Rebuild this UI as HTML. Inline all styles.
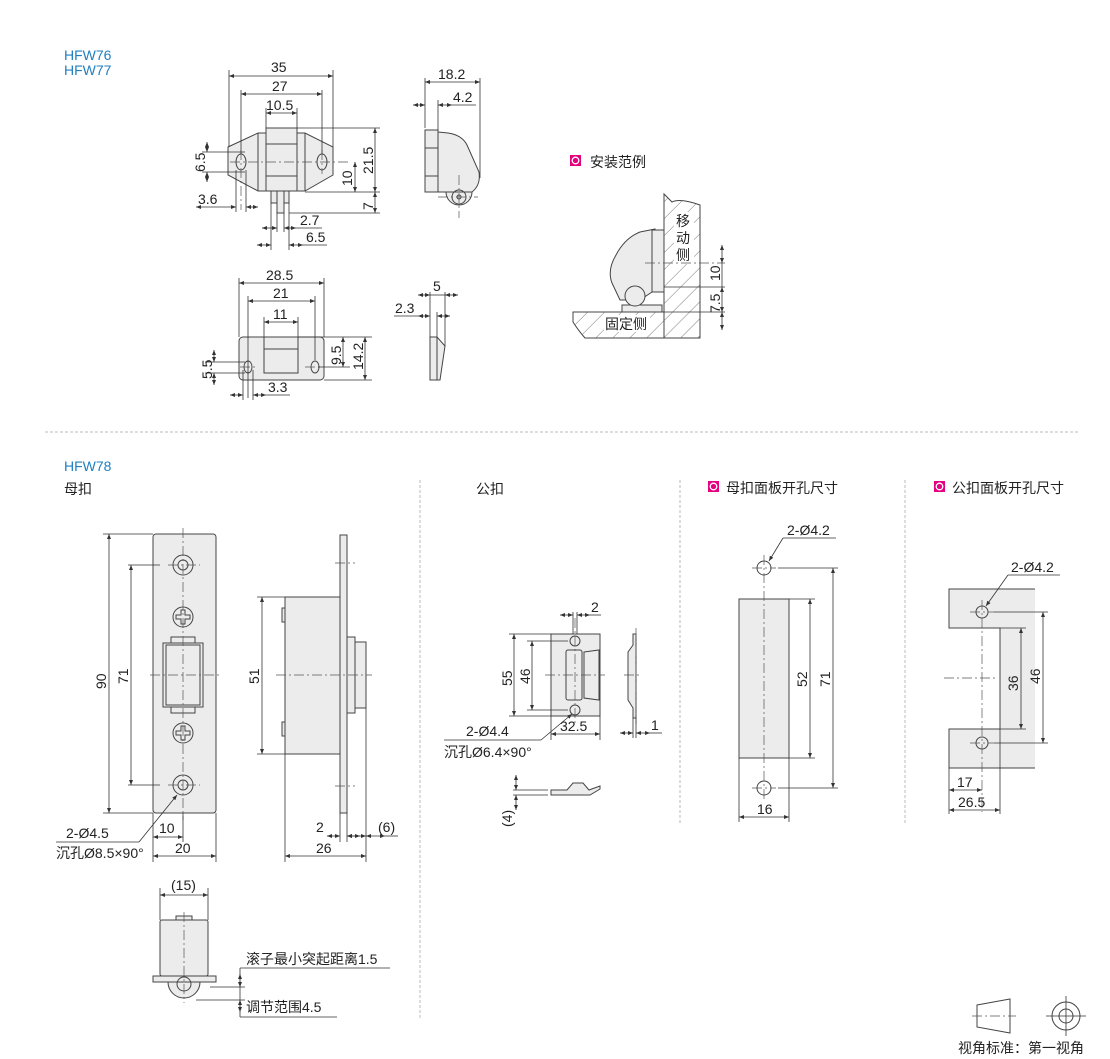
<!DOCTYPE html>
<html><head><meta charset="utf-8"><style>
html,body{margin:0;padding:0;background:#fff;}
svg{display:block;}
text{font-family:"Liberation Sans","Noto Sans CJK SC",sans-serif;font-size:14px;fill:#222;}
.b{fill:#1f7fc0;}
.g{fill:#ececec;stroke:#444;stroke-width:1;}
.o{fill:none;stroke:#444;stroke-width:1;}
.d{fill:none;stroke:#333;stroke-width:0.8;}
.c{fill:none;stroke:#555;stroke-width:0.7;stroke-dasharray:10 3 2 3;}
.a{fill:none;stroke:#333;stroke-width:0.8;marker-start:url(#ar);marker-end:url(#ar);}
.sep{stroke:#bbb;stroke-width:1;stroke-dasharray:3 2;}
</style></head><body>
<svg width="1110" height="1059" viewBox="0 0 1110 1059" xmlns="http://www.w3.org/2000/svg">
<defs>
<marker id="ar" viewBox="0 0 10 10" refX="10" refY="5" markerWidth="7" markerHeight="5" orient="auto-start-reverse" markerUnits="userSpaceOnUse"><path d="M0,1 L10,5 L0,9 Z" fill="#333"/></marker>
<pattern id="h" width="12" height="12" patternUnits="userSpaceOnUse" patternTransform="rotate(45)"><rect width="12" height="12" fill="#fff"/><line x1="0" y1="0" x2="0" y2="12" stroke="#555" stroke-width="0.8"/></pattern>
</defs>

<text x="64" y="60" class="b">HFW76</text>
<text x="64" y="75" class="b">HFW77</text>

<path class="g" d="M228,147 L258,133 L266,133 L266,128 L297,128 L297,133 L305,133 L333,147 L333,175 L305,191 L258,191 L228,175 Z"/>
<line class="o" x1="258" y1="133" x2="258" y2="191"/><line class="o" x1="305" y1="133" x2="305" y2="191"/>
<line class="o" x1="266" y1="133" x2="266" y2="191"/><line class="o" x1="297" y1="133" x2="297" y2="191"/>
<line class="o" x1="266" y1="144" x2="297" y2="144"/><line class="o" x1="266" y1="176" x2="297" y2="176"/>
<ellipse class="o" cx="241" cy="162" rx="5" ry="8"/><ellipse class="o" cx="322" cy="162" rx="5" ry="8"/>
<rect class="g" x="271" y="191" width="18" height="12"/><rect class="g" x="277" y="191" width="7" height="22"/>
<line class="c" x1="230" y1="162" x2="350" y2="162"/><line class="c" x1="241" y1="150" x2="241" y2="210"/><line class="c" x1="322" y1="150" x2="322" y2="174"/>
<line class="d" x1="229" y1="70" x2="229" y2="147"/><line class="d" x1="333" y1="70" x2="333" y2="147"/>
<line class="a" x1="229" y1="76" x2="333" y2="76"/><text x="271" y="72">35</text>
<line class="d" x1="241" y1="90" x2="241" y2="154"/><line class="d" x1="322" y1="90" x2="322" y2="154"/>
<line class="a" x1="241" y1="94" x2="322" y2="94"/><text x="272" y="91">27</text>
<line class="d" x1="266" y1="108" x2="266" y2="128"/><line class="d" x1="297" y1="108" x2="297" y2="128"/>
<line class="a" x1="266" y1="113" x2="297" y2="113"/><text x="266" y="110">10.5</text>
<line class="d" x1="297" y1="128" x2="380" y2="128"/><line class="d" x1="305" y1="192" x2="380" y2="192"/><line class="d" x1="289" y1="213" x2="380" y2="213"/>
<line class="a" x1="375" y1="128" x2="375" y2="192"/><text transform="translate(373,174) rotate(-90)">21.5</text>
<line class="a" x1="355" y1="162" x2="355" y2="192"/><text transform="translate(352,186) rotate(-90)">10</text>
<line class="a" x1="375" y1="192" x2="375" y2="213"/><text transform="translate(373,210) rotate(-90)">7</text>
<line class="d" x1="202" y1="152" x2="245" y2="152"/><line class="d" x1="202" y1="172" x2="245" y2="172"/>
<line class="a" x1="207" y1="142" x2="207" y2="152"/><line class="a" x1="207" y1="182" x2="207" y2="172"/><text transform="translate(205,172) rotate(-90)">6.5</text>
<line class="d" x1="236" y1="170" x2="236" y2="212"/><line class="d" x1="246" y1="170" x2="246" y2="212"/>
<line class="a" x1="196" y1="207" x2="236" y2="207"/><line class="a" x1="258" y1="207" x2="246" y2="207"/><text x="198" y="204">3.6</text>
<line class="d" x1="271" y1="203" x2="271" y2="250"/><line class="d" x1="277" y1="213" x2="277" y2="232"/><line class="d" x1="284" y1="213" x2="284" y2="232"/><line class="d" x1="289" y1="203" x2="289" y2="250"/>
<line class="a" x1="262" y1="228" x2="277" y2="228"/><line class="a" x1="296" y1="228" x2="284" y2="228"/><line class="d" x1="296" y1="228" x2="322" y2="228"/><text x="300" y="225">2.7</text>
<line class="a" x1="257" y1="245" x2="271" y2="245"/><line class="a" x1="303" y1="245" x2="289" y2="245"/><line class="d" x1="303" y1="245" x2="327" y2="245"/><text x="306" y="242">6.5</text>

<path class="g" d="M446,192 A13,13 0 1 0 472,192 Z"/>
<path class="g" d="M425,130 L438,132 L448,133 Q462,135 467,145 L479,172 Q481,185 472,192 L425,192 Z"/>
<rect class="g" x="425" y="130" width="13" height="62"/>
<line class="o" x1="425" y1="148" x2="438" y2="148"/><line class="o" x1="425" y1="176" x2="438" y2="176"/>
<circle class="o" cx="459" cy="197" r="7"/><circle class="o" cx="459" cy="197" r="2"/>
<line class="c" x1="459" y1="175" x2="459" y2="218"/><line class="c" x1="438" y1="197" x2="478" y2="197"/>
<line class="d" x1="425" y1="78" x2="425" y2="128"/><line class="d" x1="480" y1="78" x2="480" y2="178"/><line class="d" x1="438" y1="100" x2="438" y2="130"/>
<line class="a" x1="425" y1="82" x2="480" y2="82"/><text x="438" y="79">18.2</text>
<line class="a" x1="413" y1="105" x2="425" y2="105"/><line class="a" x1="452" y1="105" x2="438" y2="105"/><line class="d" x1="452" y1="105" x2="476" y2="105"/><text x="453" y="102">4.2</text>

<rect class="g" x="239" y="337" width="85" height="43" rx="4"/>
<rect class="o" x="264" y="337" width="34" height="36"/><line class="o" x1="264" y1="349" x2="298" y2="349"/>
<ellipse class="o" cx="248" cy="367" rx="4" ry="6"/><ellipse class="o" cx="315" cy="367" rx="4" ry="6"/>
<line class="c" x1="240" y1="367" x2="258" y2="367"/><line class="c" x1="305" y1="367" x2="323" y2="367"/>
<line class="d" x1="239" y1="278" x2="239" y2="337"/><line class="d" x1="324" y1="278" x2="324" y2="337"/>
<line class="a" x1="239" y1="283" x2="324" y2="283"/><text x="266" y="280">28.5</text>
<line class="d" x1="248" y1="296" x2="248" y2="398"/><line class="d" x1="315" y1="296" x2="315" y2="360"/>
<line class="a" x1="248" y1="301" x2="315" y2="301"/><text x="273" y="298">21</text>
<line class="d" x1="264" y1="317" x2="264" y2="337"/><line class="d" x1="298" y1="317" x2="298" y2="337"/>
<line class="a" x1="264" y1="322" x2="298" y2="322"/><text x="273" y="319">11</text>
<line class="d" x1="298" y1="337" x2="372" y2="337"/><line class="d" x1="324" y1="380" x2="372" y2="380"/><line class="d" x1="318" y1="367" x2="350" y2="367"/>
<line class="a" x1="343" y1="337" x2="343" y2="367"/><text transform="translate(341,365) rotate(-90)">9.5</text>
<line class="a" x1="365" y1="337" x2="365" y2="380"/><text transform="translate(363,370) rotate(-90)">14.2</text>
<line class="d" x1="205" y1="362" x2="245" y2="362"/><line class="d" x1="205" y1="373" x2="245" y2="373"/>
<line class="a" x1="214" y1="350" x2="214" y2="362"/><line class="a" x1="214" y1="385" x2="214" y2="373"/><text transform="translate(212,379) rotate(-90)">5.5</text>
<line class="d" x1="243" y1="370" x2="243" y2="400"/><line class="d" x1="253" y1="370" x2="253" y2="400"/>
<line class="a" x1="230" y1="395" x2="243" y2="395"/><line class="a" x1="266" y1="395" x2="253" y2="395"/><line class="d" x1="266" y1="395" x2="290" y2="395"/><text x="268" y="392">3.3</text>
<path class="g" d="M430,337 L437,337 L445,346 L440,380 L430,380 Z"/><line class="o" x1="437" y1="337" x2="437" y2="380"/>
<line class="d" x1="430" y1="292" x2="430" y2="337"/><line class="d" x1="445" y1="292" x2="445" y2="346"/><line class="d" x1="437" y1="312" x2="437" y2="337"/>
<line class="a" x1="418" y1="295" x2="430" y2="295"/><line class="a" x1="458" y1="295" x2="445" y2="295"/><line class="d" x1="430" y1="295" x2="445" y2="295"/><text x="433" y="291">5</text>
<line class="a" x1="418" y1="316" x2="430" y2="316"/><line class="a" x1="450" y1="316" x2="437" y2="316"/><line class="d" x1="394" y1="316" x2="418" y2="316"/><text x="395" y="313">2.3</text>

<rect x="570" y="155" width="11" height="11" fill="#e4007f"/><circle cx="575.5" cy="160.5" r="3.3" fill="none" stroke="#fff" stroke-width="1.3"/>
<text x="590" y="167">安装范例</text>
<path d="M664,338 L664,194 L672,202 Q680,198 700,205 L700,338 Z" fill="url(#h)" stroke="#444"/>
<path d="M573,312 L664,312 L664,338 L585,338 Q578,330 573,322 Z" fill="url(#h)" stroke="#444"/>
<rect x="622" y="305" width="40" height="7" class="g"/>
<path class="g" d="M612,283 Q607,270 616,255 Q625,238 640,232 L655,229 L655,290 L640,300 L620,300 Z"/>
<rect class="g" x="652" y="230" width="12" height="62"/>
<circle class="g" cx="635" cy="296" r="10"/>
<rect x="674" y="212" width="20" height="52" fill="#fff"/>
<text x="676" y="226">移</text><text x="676" y="243">动</text><text x="676" y="260">侧</text>
<rect x="604" y="315" width="46" height="17" fill="#fff"/><text x="605" y="329">固定侧</text>
<line class="c" x1="645" y1="263" x2="725" y2="263"/><line class="d" x1="664" y1="287" x2="725" y2="287"/><line class="d" x1="664" y1="312" x2="725" y2="312"/>
<line class="a" x1="722" y1="245" x2="722" y2="263"/><line class="d" x1="722" y1="263" x2="722" y2="287"/><text transform="translate(720,281) rotate(-90)">10</text>
<line class="a" x1="722" y1="287" x2="722" y2="312"/><text transform="translate(720,313) rotate(-90)">7.5</text><line class="a" x1="722" y1="330" x2="722" y2="312"/>

<line class="sep" x1="45" y1="432" x2="1078" y2="432"/>
<line class="sep" x1="420" y1="480" x2="420" y2="1020"/>
<line class="sep" x1="680" y1="480" x2="680" y2="825"/>
<line class="sep" x1="905" y1="480" x2="905" y2="825"/>

<text x="64" y="471" class="b">HFW78</text>
<text x="64" y="494">母扣</text>
<text x="476" y="494">公扣</text>
<rect x="708" y="481" width="11" height="11" fill="#e4007f"/><circle cx="713.5" cy="486.5" r="3.3" fill="none" stroke="#fff" stroke-width="1.3"/>
<text x="726" y="493">母扣面板开孔尺寸</text>
<rect x="934" y="481" width="11" height="11" fill="#e4007f"/><circle cx="939.5" cy="486.5" r="3.3" fill="none" stroke="#fff" stroke-width="1.3"/>
<text x="952" y="493">公扣面板开孔尺寸</text>

<rect class="g" x="153" y="534" width="63" height="279" rx="3"/>
<circle class="o" cx="183" cy="565" r="10"/><circle class="o" cx="183" cy="565" r="5"/>
<circle class="o" cx="183" cy="785" r="10"/><circle class="o" cx="183" cy="785" r="5"/>
<circle class="o" cx="183" cy="617" r="10"/><circle class="o" cx="183" cy="733" r="10"/>
<path class="o" d="M181,610 h4 v5 h5 v4 h-5 v5 h-4 v-5 h-5 v-4 h5 Z"/><path class="o" d="M181,726 h4 v5 h5 v4 h-5 v5 h-4 v-5 h-5 v-4 h5 Z"/>
<rect class="g" x="171" y="637" width="24" height="76"/>
<rect class="g" x="163" y="643" width="40" height="64"/><rect class="o" x="166" y="645" width="34" height="60"/>
<line class="c" x1="183" y1="528" x2="183" y2="820"/><line class="c" x1="150" y1="675" x2="220" y2="675"/>
<line class="c" x1="168" y1="565" x2="200" y2="565"/><line class="c" x1="168" y1="785" x2="200" y2="785"/>
<line class="d" x1="103" y1="534" x2="153" y2="534"/><line class="d" x1="103" y1="813" x2="153" y2="813"/>
<line class="a" x1="109" y1="534" x2="109" y2="813"/><text transform="translate(106,689) rotate(-90)">90</text>
<line class="d" x1="128" y1="565" x2="160" y2="565"/><line class="d" x1="128" y1="785" x2="160" y2="785"/>
<line class="a" x1="131" y1="565" x2="131" y2="785"/><text transform="translate(128,684) rotate(-90)">71</text>
<line class="d" x1="153" y1="813" x2="153" y2="862"/><line class="d" x1="216" y1="813" x2="216" y2="862"/><line class="d" x1="183" y1="813" x2="183" y2="842"/>
<line class="a" x1="153" y1="837" x2="183" y2="837"/><text x="159" y="833">10</text>
<line class="a" x1="153" y1="856" x2="216" y2="856"/><text x="175" y="853">20</text>
<line class="d" x1="56" y1="842" x2="139" y2="842"/><line class="d" x1="139" y1="842" x2="177" y2="795" marker-end="url(#ar)"/>
<text x="66" y="838">2-Ø4.5</text><text x="56" y="858">沉孔Ø8.5×90°</text>

<rect class="g" x="340" y="535" width="7" height="278"/>
<rect class="g" x="285" y="597" width="55" height="157"/>
<rect class="g" x="282" y="608" width="3" height="14"/><rect class="g" x="282" y="722" width="3" height="14"/>
<rect class="g" x="347" y="642" width="19" height="66"/><rect class="g" x="347" y="637" width="8" height="76"/>
<line class="c" x1="276" y1="675" x2="372" y2="675"/><line class="c" x1="335" y1="563" x2="355" y2="563"/><line class="c" x1="335" y1="786" x2="355" y2="786"/>
<line class="d" x1="257" y1="597" x2="285" y2="597"/><line class="d" x1="257" y1="754" x2="285" y2="754"/>
<line class="a" x1="262" y1="597" x2="262" y2="754"/><text transform="translate(259,684) rotate(-90)">51</text>
<line class="d" x1="285" y1="754" x2="285" y2="862"/><line class="d" x1="366" y1="708" x2="366" y2="862"/><line class="d" x1="340" y1="813" x2="340" y2="842"/><line class="d" x1="347" y1="813" x2="347" y2="842"/>
<line class="a" x1="327" y1="836" x2="340" y2="836"/><line class="a" x1="360" y1="836" x2="347" y2="836"/><text x="316" y="832">2</text>
<line class="a" x1="347" y1="836" x2="366" y2="836"/><line class="a" x1="385" y1="836" x2="366" y2="836"/><line class="d" x1="385" y1="836" x2="398" y2="836"/><text x="378" y="832">(6)</text>
<line class="a" x1="285" y1="856" x2="366" y2="856"/><text x="316" y="853">26</text>

<rect class="g" x="160" y="920" width="48" height="56" rx="2"/><rect class="g" x="176" y="916" width="16" height="4"/>
<rect class="g" x="153" y="976" width="63" height="6"/>
<path class="g" d="M168,982 A16,16 0 0 0 200,982 Z"/><circle class="o" cx="184" cy="984" r="7"/>
<line class="c" x1="184" y1="912" x2="184" y2="1003"/>
<line class="d" x1="160" y1="888" x2="160" y2="920"/><line class="d" x1="208" y1="888" x2="208" y2="920"/>
<line class="a" x1="160" y1="895" x2="208" y2="895"/><text x="171" y="890">(15)</text>
<line class="d" x1="210" y1="987" x2="245" y2="987"/><line class="d" x1="196" y1="1000" x2="245" y2="1000"/>
<line class="d" x1="240" y1="968" x2="390" y2="968"/><line class="d" x1="240" y1="1017" x2="337" y2="1017"/>
<line class="a" x1="240" y1="974" x2="240" y2="987"/><line class="a" x1="240" y1="1012" x2="240" y2="1000"/><line class="d" x1="240" y1="968" x2="240" y2="1017"/>
<text x="246" y="964">滚子最小突起距离1.5</text><text x="246" y="1012">调节范围4.5</text>

<rect class="g" x="551" y="634" width="49" height="82"/>
<rect class="o" x="566" y="650" width="16" height="50" rx="2"/><path class="o" d="M584,652 L599,650 L599,700 L584,698 Z"/>
<circle class="o" cx="575" cy="641" r="5"/><circle class="o" cx="575" cy="710" r="5"/>
<line class="c" x1="575" y1="618" x2="575" y2="725"/><line class="c" x1="545" y1="675" x2="605" y2="675"/>
<line class="d" x1="509" y1="634" x2="551" y2="634"/><line class="d" x1="509" y1="716" x2="551" y2="716"/>
<line class="a" x1="514" y1="634" x2="514" y2="716"/><text transform="translate(512,686) rotate(-90)">55</text>
<line class="d" x1="527" y1="641" x2="568" y2="641"/><line class="d" x1="527" y1="710" x2="568" y2="710"/>
<line class="a" x1="532" y1="641" x2="532" y2="710"/><text transform="translate(530,684) rotate(-90)">46</text>
<line class="d" x1="573" y1="612" x2="573" y2="634"/><line class="d" x1="577" y1="612" x2="577" y2="634"/>
<line class="a" x1="560" y1="615" x2="573" y2="615"/><line class="a" x1="590" y1="615" x2="577" y2="615"/><line class="d" x1="590" y1="615" x2="601" y2="615"/><text x="591" y="612">2</text>
<line class="d" x1="551" y1="716" x2="551" y2="740"/><line class="d" x1="600" y1="716" x2="600" y2="740"/>
<line class="a" x1="551" y1="734" x2="600" y2="734"/><text x="560" y="731">32.5</text>
<line class="d" x1="444" y1="740" x2="541" y2="740"/><line class="d" x1="541" y1="740" x2="572" y2="714" marker-end="url(#ar)"/>
<text x="466" y="736">2-Ø4.4</text><text x="444" y="757">沉孔Ø6.4×90°</text>
<path class="g" d="M633,634 L636,634 L636,718 L633,718 L633,708 L628,700 L628,652 L633,645 Z"/>
<line class="c" x1="636" y1="628" x2="636" y2="724"/><line class="c" x1="624" y1="675" x2="642" y2="675"/>
<line class="a" x1="620" y1="733" x2="633" y2="733"/><line class="a" x1="650" y1="733" x2="636" y2="733"/><line class="d" x1="650" y1="733" x2="662" y2="733"/><line class="d" x1="633" y1="718" x2="633" y2="738"/><line class="d" x1="636" y1="718" x2="636" y2="738"/><text x="651" y="730">1</text>
<path class="o" d="M551,790 L567,790 L573,783 L583,783 L589,790 L600,786 L600,789 L590,795 L551,795 Z" style="fill:#ececec"/>
<line class="d" x1="513" y1="790" x2="548" y2="790"/><line class="d" x1="513" y1="795" x2="548" y2="795"/>
<line class="a" x1="516" y1="775" x2="516" y2="790"/><line class="a" x1="516" y1="810" x2="516" y2="795"/><text transform="translate(512,827) rotate(-90)">(4)</text>

<rect class="g" x="739" y="599" width="50" height="159"/>
<circle class="o" cx="764" cy="568" r="7"/><circle class="o" cx="764" cy="788" r="7"/>
<line class="c" x1="764" y1="555" x2="764" y2="800"/><line class="c" x1="752" y1="568" x2="776" y2="568"/><line class="c" x1="752" y1="788" x2="776" y2="788"/>
<line class="d" x1="778" y1="568" x2="838" y2="568"/><line class="d" x1="778" y1="788" x2="838" y2="788"/>
<line class="a" x1="833" y1="568" x2="833" y2="788"/><text transform="translate(830,687) rotate(-90)">71</text>
<line class="d" x1="789" y1="599" x2="815" y2="599"/><line class="d" x1="789" y1="758" x2="815" y2="758"/>
<line class="a" x1="810" y1="599" x2="810" y2="758"/><text transform="translate(807,687) rotate(-90)">52</text>
<line class="d" x1="739" y1="758" x2="739" y2="822"/><line class="d" x1="789" y1="758" x2="789" y2="822"/>
<line class="a" x1="739" y1="817" x2="789" y2="817"/><text x="757" y="814">16</text>
<line class="d" x1="783" y1="538" x2="836" y2="538"/><line class="d" x1="783" y1="538" x2="769" y2="561" marker-end="url(#ar)"/>
<text x="787" y="535">2-Ø4.2</text>

<path d="M949,589 L1035,589 L1035,768 L949,768 L949,729 L1000,729 L1000,628 L949,628 Z" fill="#ececec"/>
<path class="o" d="M1035,589 L949,589 L949,628 L1000,628 L1000,729 L949,729 L949,768 L1035,768"/>
<circle class="o" cx="982" cy="612" r="6"/><circle class="o" cx="982" cy="743" r="6"/>
<line class="c" x1="982" y1="600" x2="982" y2="812"/><line class="c" x1="944" y1="678" x2="998" y2="678"/><line class="c" x1="970" y1="612" x2="994" y2="612"/><line class="c" x1="970" y1="743" x2="994" y2="743"/>
<line class="d" x1="994" y1="612" x2="1048" y2="612"/><line class="d" x1="994" y1="743" x2="1048" y2="743"/>
<line class="a" x1="1043" y1="612" x2="1043" y2="743"/><text transform="translate(1040,684) rotate(-90)">46</text>
<line class="d" x1="1000" y1="628" x2="1026" y2="628"/><line class="d" x1="1000" y1="729" x2="1026" y2="729"/>
<line class="a" x1="1021" y1="628" x2="1021" y2="729"/><text transform="translate(1018,691) rotate(-90)">36</text>
<line class="d" x1="949" y1="768" x2="949" y2="814"/><line class="d" x1="1000" y1="729" x2="1000" y2="814"/>
<line class="a" x1="949" y1="790" x2="982" y2="790"/><text x="957" y="787">17</text>
<line class="a" x1="949" y1="810" x2="1000" y2="810"/><text x="958" y="807">26.5</text>
<line class="d" x1="1008" y1="575" x2="1060" y2="575"/><line class="d" x1="1008" y1="575" x2="986" y2="606" marker-end="url(#ar)"/>
<text x="1011" y="572">2-Ø4.2</text>

<path class="o" d="M977,1005 L1010,999 L1010,1033 L977,1027 Z"/>
<line class="c" x1="972" y1="1016" x2="1016" y2="1016"/>
<circle class="o" cx="1066" cy="1016" r="14"/><circle class="o" cx="1066" cy="1016" r="7"/>
<line class="d" x1="1066" y1="996" x2="1066" y2="1036"/><line class="d" x1="1046" y1="1016" x2="1086" y2="1016"/>
<text x="958" y="1053" style="font-size:14px">视角标准：第一视角</text>
</svg>
</body></html>
